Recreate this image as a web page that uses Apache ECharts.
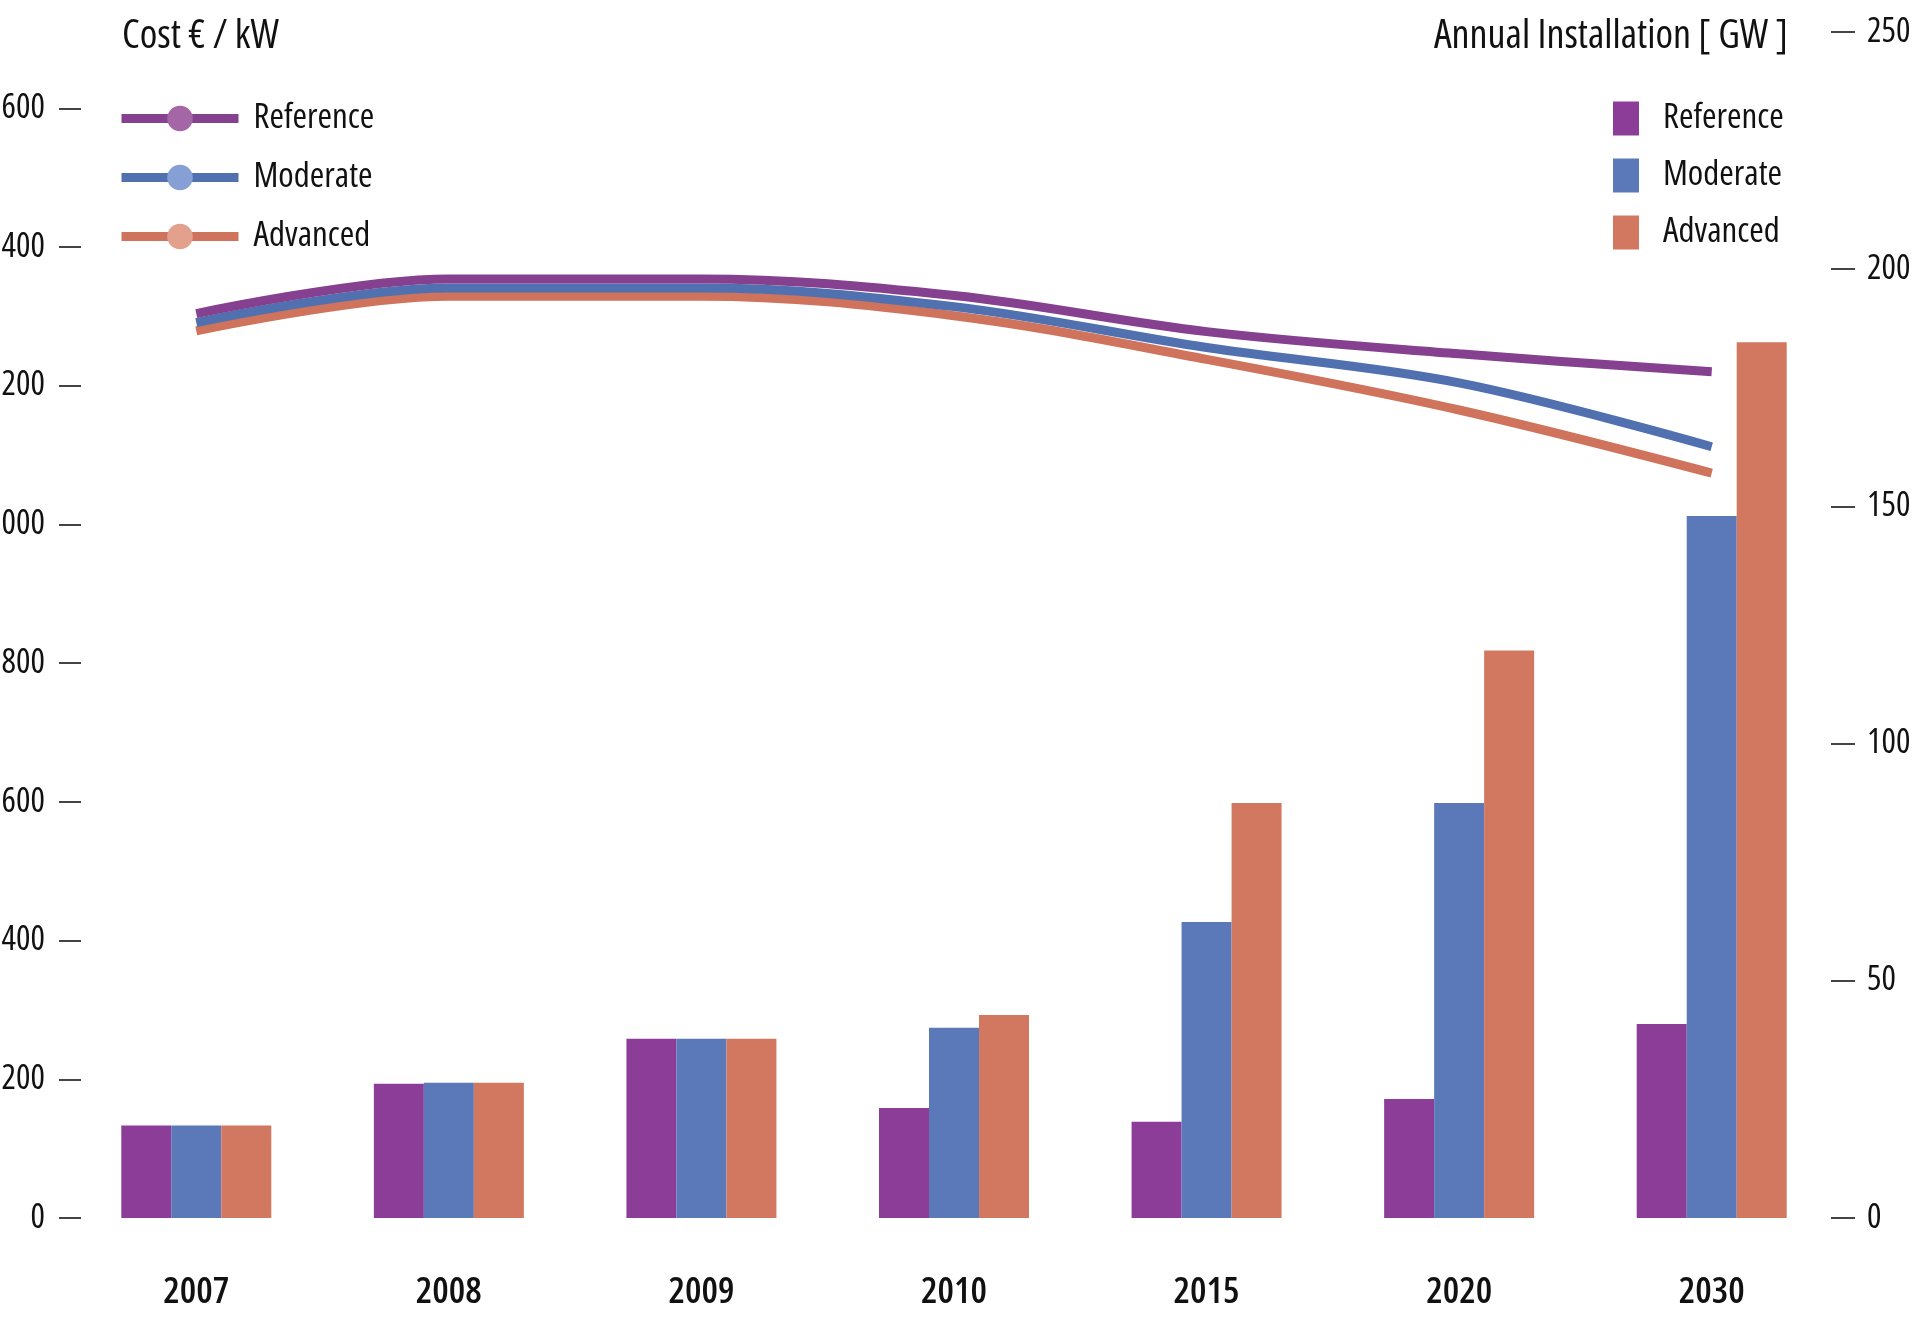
<!DOCTYPE html>
<html>
<head>
<meta charset="utf-8">
<script src="https://cdn.jsdelivr.net/npm/echarts@6/dist/echarts.min.js"></script>
<style>
html,body{margin:0;padding:0;background:#fff;}
#chart{width:1920px;height:1318px;}
</style>
</head>
<body>
<div id="chart"></div>
<script>
// ---- data ----
const categories = ['2007', '2008', '2009', '2010', '2015', '2020', '2030'];
const scenarioNames = ['Reference', 'Moderate', 'Advanced'];
// cost (€/kW), left axis
const costReference = [1304, 1354, 1354, 1330, 1278, 1246, 1220];
const costModerate  = [1291, 1341, 1341, 1314, 1255, 1204, 1112];
const costAdvanced  = [1279, 1329, 1329, 1301, 1238, 1165, 1074];
// annual installation (GW), right axis
const gwReference = [19.5, 28.3, 37.8, 23.2, 20.3, 25.1, 40.9];
const gwModerate  = [19.5, 28.5, 37.8, 40.1, 62.4, 87.5, 148];
const gwAdvanced  = [19.5, 28.5, 37.8, 42.8, 87.5, 119.6, 184.6];
// tick labels
const leftTicks = [0, 200, 400, 600, 800, 1000, 1200, 1400, 1600];
const rightTicks = [0, 50, 100, 150, 200, 250];

// ---- pick the narrowest installed sans font (reference uses a condensed face) ----
const ctx = document.createElement('canvas').getContext('2d');
const candidates = [
  ['normal', "'Liberation Sans Narrow'"],
  ['condensed', "'Liberation Sans'"],
  ['normal', "'DejaVu Sans Condensed'"],
  ['condensed', "'DejaVu Sans'"],
  ['normal', "'Noto Sans Condensed'"],
  ['condensed', "'Noto Sans'"],
  ['normal', "'Open Sans Condensed'"],
  ['condensed', "'Open Sans'"],
  ['normal', "'Roboto Condensed'"],
  ['condensed', "Roboto"],
  ['normal', "'Liberation Sans'"]
];
const probe = 'Annual Installation [ GW ]';
function measure(stretch, fam, str, weight) {
  ctx.font = '10px serif';
  const f = (weight ? weight + ' ' : '') + (stretch === 'normal' ? '' : stretch + ' ') + '100px ' + fam;
  ctx.font = f;
  if (ctx.font === '10px serif') return Infinity;
  return ctx.measureText(str).width;
}
let best = candidates[candidates.length - 1];
let bestW = measure(best[0], best[1], probe);
candidates.forEach(c => {
  const wv = measure(c[0], c[1], probe);
  if (wv < bestW && wv > 700) { best = c; bestW = wv; }
});
const FONT = best[1] + ", 'Liberation Sans', sans-serif";
const STRETCH = best[0];
function sizeFor(str, targetWidth, maxSize, weight) {
  const wv = measure(STRETCH, best[1], str, weight);
  return Math.min(maxSize, Math.round(targetWidth / (wv / 100) * 10) / 10);
}
const titleSize = sizeFor('Annual Installation [ GW ]', 354, 40);
const costTitleSize = sizeFor('Cost € / kW', 158, 40);
const legendSize = sizeFor('Reference', 124, 35);
const xLabelSize = sizeFor('2007', 66, 38, '600');
const yLabelSize = sizeFor('250', 49, 34);

function txt(size, extra, weight) {
  return Object.assign({
    fontFamily: FONT, fontStyle: 'normal',
    fontWeight: (weight ? weight + ' ' : '') + STRETCH,
    fontSize: size, color: '#111'
  }, extra || {});
}

const lineColors = ['#85408F', '#5070B0', '#D0735C'];
const markerColors = ['#A466A6', '#86A0D6', '#E3A08C'];
const barColors = ['#8B3D97', '#5B78B9', '#D27760'];

const chart = echarts.init(document.getElementById('chart'), null, {renderer: 'canvas'});

const costData = [costReference, costModerate, costAdvanced];
const gwData = [gwReference, gwModerate, gwAdvanced];

const barSeries = scenarioNames.map((n, i) => ({
  name: n + ' GW',
  type: 'bar',
  yAxisIndex: 1,
  data: gwData[i],
  barWidth: 50,
  barGap: '0%',
  itemStyle: {color: barColors[i]},
  silent: true
}));

// draw lines in reverse so Reference is on top
const lineSeries = [2, 1, 0].map(i => ({
  name: scenarioNames[i],
  type: 'line',
  yAxisIndex: 0,
  data: costData[i],
  smooth: 0.35,
  symbol: 'circle',
  showSymbol: false,
  lineStyle: {color: lineColors[i], width: 9},
  itemStyle: {color: lineColors[i]},
  silent: true,
  z: 3
}));

const option = {
  backgroundColor: '#ffffff',
  animation: false,
  textStyle: {fontFamily: FONT},
  title: [
    {text: 'Cost € / kW', left: 122, top: 17, padding: 0, textStyle: txt(costTitleSize)},
    {text: 'Annual Installation [ GW ]', right: 132, top: 17, padding: 0, textStyle: txt(titleSize)}
  ],
  legend: [
    {
      left: 117, top: 101, orient: 'vertical', padding: 0,
      itemWidth: 117, itemHeight: 32, itemGap: 24,
      data: scenarioNames.map((n, i) => ({name: n, itemStyle: {color: markerColors[i]}})),
      lineStyle: {width: 9},
      textStyle: txt(legendSize, {padding: [0, 0, 0, 10]}),
      selectedMode: false
    },
    {
      left: 1613, top: 101, orient: 'vertical', padding: 0,
      itemWidth: 26, itemHeight: 34, itemGap: 22, icon: 'rect',
      data: scenarioNames.map(n => n + ' GW'),
      formatter: name => name.replace(' GW', ''),
      textStyle: txt(legendSize, {padding: [0, 0, 0, 19]}),
      selectedMode: false
    }
  ],
  grid: {left: 70, right: 82, top: 32, bottom: 100, containLabel: false, outerBoundsMode: 'none'},
  xAxis: {
    type: 'category',
    data: categories,
    axisLine: {show: false},
    axisTick: {show: false},
    axisLabel: txt(xLabelSize, {margin: 56}, '600')
  },
  yAxis: [
    {
      type: 'value', min: 0, max: 1710, interval: 200, position: 'left', offset: -11,
      splitLine: {show: false},
      axisLine: {show: false},
      axisTick: {show: true, length: 22, customValues: leftTicks, lineStyle: {color: '#444', width: 2}},
      axisLabel: txt(yLabelSize, {customValues: leftTicks, margin: 36, formatter: v => String(v)})
    },
    {
      type: 'value', min: 0, max: 250, interval: 50, position: 'right', offset: -7,
      splitLine: {show: false},
      axisLine: {show: false},
      axisTick: {show: true, length: 24, customValues: rightTicks, lineStyle: {color: '#444', width: 2}},
      axisLabel: txt(yLabelSize, {customValues: rightTicks, margin: 36, formatter: v => String(v)})
    }
  ],
  series: barSeries.concat(lineSeries)
};
chart.setOption(option);
</script>
</body>
</html>
